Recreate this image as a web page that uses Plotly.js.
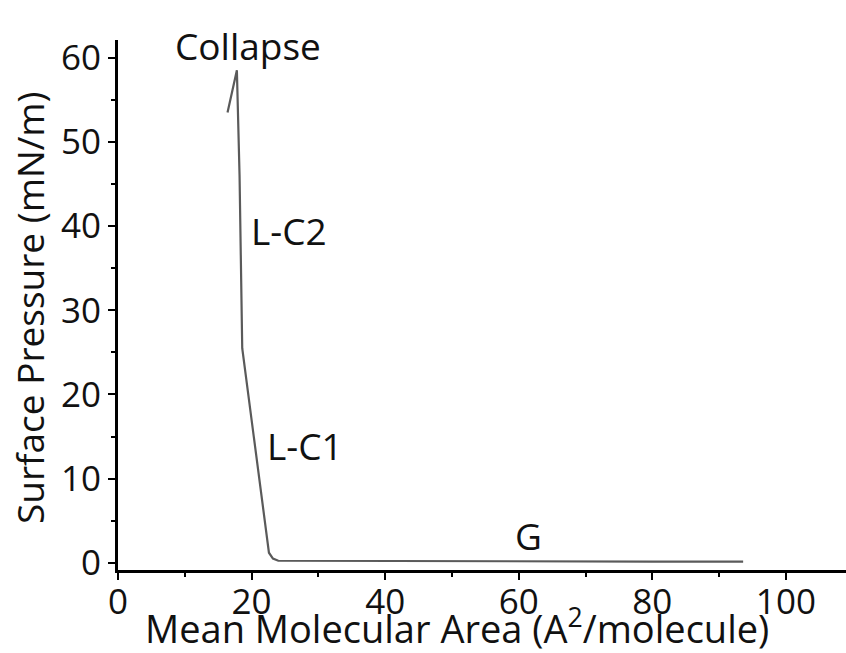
<!DOCTYPE html>
<html>
<head>
<meta charset="utf-8">
<script src="https://cdn.plot.ly/plotly-3.0.1.min.js"></script>
<style>html,body{margin:0;padding:0;background:#fff;}#chart{width:846px;height:653px;}</style>
</head>
<body>
<div id="chart"></div>
<script>
// Mean molecular area (A^2/molecule) and surface pressure (mN/m)
var area = [16.4, 17.8, 18.2, 18.4, 18.6, 22.6, 23.2, 24.0, 40, 60, 80, 93.6];
var pressure = [53.5, 58.5, 46, 32, 25.5, 1.2, 0.5, 0.25, 0.2, 0.2, 0.15, 0.15];

var labelText = ["Collapse", "L-C2", "L-C1", "G"];
var labelX = [19.5, 25.6, 28.0, 61.4];
var labelY = [61.5, 39.5, 13.9, 3.2];

var xTitle = 'Mean Molecular Area (A<sup>2</sup>/molecule)';
var yTitle = 'Surface Pressure (mN/m)';

var fontFam = "'Open Sans', 'DejaVu Sans', sans-serif";

var trace = {
  x: area, y: pressure, type: 'scatter', mode: 'lines',
  line: {color: '#5a5a5a', width: 2.2}, hoverinfo: 'skip'
};

var annotations = labelText.map(function (t, i) {
  return {x: labelX[i], y: labelY[i], text: t, showarrow: false,
    xref: 'x', yref: 'y', font: {family: fontFam, size: 37, color: '#111'}};
});
annotations.push({xref: 'paper', yref: 'paper', x: 0.4657, y: -0.1075,
  xanchor: 'center', yanchor: 'middle', text: xTitle, showarrow: false,
  font: {family: fontFam, size: 38, color: '#111'}});
annotations.push({xref: 'paper', yref: 'paper', x: -0.1223, y: 0.496,
  xanchor: 'center', yanchor: 'middle', text: yTitle, showarrow: false, textangle: -90,
  font: {family: fontFam, size: 37, color: '#111'}});

var layout = {
  width: 846, height: 653,
  margin: {l: 118, r: 0, t: 40, b: 83},
  paper_bgcolor: '#fff', plot_bgcolor: '#fff',
  showlegend: false,
  font: {family: fontFam, color: '#111'},
  xaxis: {
    range: [0, 109], showgrid: false, zeroline: false,
    showline: true, linecolor: '#000', linewidth: 3,
    ticks: 'outside', ticklen: 7, tickwidth: 2, tickcolor: '#000',
    tick0: 0, dtick: 20, ticklabelstandoff: -8,
    minor: {ticks: 'outside', dtick: 10, ticklen: 4, tickwidth: 2, tickcolor: '#000'},
    tickfont: {family: fontFam, size: 35, color: '#111'},
    automargin: false
  },
  yaxis: {
    range: [-0.85, 62.1], showgrid: false, zeroline: false,
    showline: true, linecolor: '#000', linewidth: 3,
    ticks: 'outside', ticklen: 7, tickwidth: 2, tickcolor: '#000',
    tick0: 0, dtick: 10,
    minor: {ticks: 'outside', dtick: 5, ticklen: 4, tickwidth: 2, tickcolor: '#000'},
    tickfont: {family: fontFam, size: 35, color: '#111'},
    automargin: false
  },
  annotations: annotations
};

Plotly.newPlot('chart', [trace], layout, {displayModeBar: false, staticPlot: true});
</script>
</body>
</html>
